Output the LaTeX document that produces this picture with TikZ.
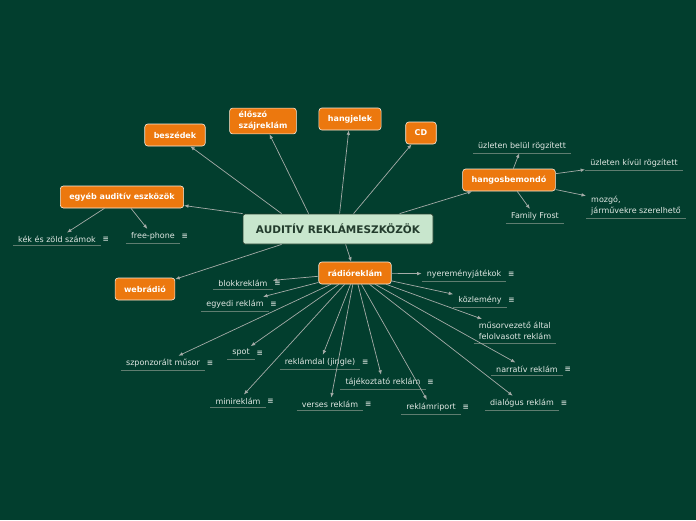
\documentclass[tikz,border=0pt]{standalone}
\usepackage{fontspec}
\setmainfont{DejaVu Sans}
\usetikzlibrary{arrows.meta,positioning}
\definecolor{bgdark}{RGB}{2,62,46}
\definecolor{orng}{RGB}{236,120,14}
\definecolor{ctrfill}{RGB}{200,230,205}
\definecolor{ctrtext}{RGB}{35,60,45}
\definecolor{conncol}{RGB}{165,172,168}
\definecolor{leaftxt}{RGB}{225,232,228}
\definecolor{ulcol}{RGB}{95,125,112}

\begin{document}
\begin{tikzpicture}[x=1pt,y=-1pt,>={Latex[length=4.5pt,width=3.6pt]},
  ctr/.style={draw=ctrtext,line width=.8pt,rounded corners=2pt,fill=ctrfill,text=ctrtext,font=\fontsize{10.5}{12}\selectfont\bfseries,minimum width=190pt,minimum height=30pt},
  topic/.style={draw=white!85!orng,line width=.6pt,rounded corners=3pt,fill=orng,text=white,font=\fontsize{8}{11}\selectfont\bfseries,inner xsep=9pt,minimum height=22pt,align=left},
  uline/.style={draw=ulcol,line width=.8pt,-},
  leaf/.style={text=leaftxt,font=\fontsize{8}{11}\selectfont,inner xsep=5pt,inner ysep=3pt,align=left,
    append after command={(\tikzlastnode.south west) edge[uline] (\tikzlastnode.south east)}},
  icon/.style={text=leaftxt!90!bgdark,font=\fontsize{7.5}{8}\selectfont\bfseries,inner sep=1.5pt},
  leafi/.style={leaf,label={[icon]right:≡}},
  conn/.style={draw=conncol,line width=.7pt,->}]
  \fill[bgdark] (0,0) rectangle (696,520);
  % main topic and its branches
  \node[ctr] (ctr) at (338,229) {AUDITÍV REKLÁMESZKÖZÖK};
  \node[topic] (bsz) at (175,135) {beszédek};
  \node[topic] (elo) at (263,121) {élőszó\\szájreklám};
  \node[topic] (hang) at (350,119) {hangjelek};
  \node[topic] (cd) at (421,133) {CD};
  \node[topic] (egy) at (122,197) {egyéb auditív eszközök};
  \node[topic] (hbm) at (509,180) {hangosbemondó};
  \node[topic] (web) at (145,289) {webrádió};
  \node[topic] (rr) at (355,273) {rádióreklám};
  \draw[conn] ([xshift=39pt]ctr.north west) -- (bsz);
  \draw[conn] ([xshift=66pt]ctr.north west) -- (elo);
  \draw[conn] ([xshift=97pt]ctr.north west) -- (hang);
  \draw[conn] ([xshift=111pt]ctr.north west) -- (cd);
  \draw[conn] (ctr.north west) -- (egy);
  \draw[conn] ([xshift=157pt]ctr.north west) -- (hbm);
  \draw[conn] ([xshift=39pt]ctr.south west) -- (web);
  \draw[conn] ([xshift=103pt]ctr.south west) -- (rr);
  % egyéb auditív eszközök
  \node[leafi] (kek) at (57,239) {kék és zöld számok};
  \node[leafi] (free) at (153,236) {free-phone};
  \draw[conn] (egy) -- (kek);
  \draw[conn] (egy) -- (free);
  % hangosbemondó
  \node[leaf] (bel) at (522,146) {üzleten belül rögzített};
  \node[leaf] (kiv) at (634,163) {üzleten kívül rögzített};
  \node[leaf] (moz) at (636,206) {mozgó,\\járművekre szerelhető};
  \node[leaf] (ff) at (535,216) {Family Frost};
  \foreach \t in {bel,kiv,moz,ff} \draw[conn] (hbm) -- (\t);
  % rádióreklám
  \node[leafi] (blk) at (243,283) {blokkreklám};
  \node[leafi] (egyd) at (235,304) {egyedi reklám};
  \node[leafi] (szp) at (163,363) {szponzorált műsor};
  \node[leafi] (spot) at (241,353) {spot};
  \node[leafi] (jng) at (320,362) {reklámdal (jingle)};
  \node[leafi] (mini) at (238,401) {minireklám};
  \node[leafi] (vers) at (330,404) {verses reklám};
  \node[leafi] (taj) at (383,382) {tájékoztató reklám};
  \node[leafi] (rip) at (431,407) {reklámriport};
  \node[leafi] (dia) at (522,403) {dialógus reklám};
  \node[leafi] (nar) at (527,369) {narratív reklám};
  \node[leaf] (msv) at (515,331) {műsorvezető által\\felolvasott reklám};
  \node[leafi] (kozl) at (480,300) {közlemény};
  \node[leafi] (nyer) at (464,274) {nyereményjátékok};
  \foreach \t in {blk,egyd,szp,spot,jng,mini,vers,taj,rip,dia,nar,msv,kozl,nyer}
    \draw[conn] (rr) -- (\t);
\end{tikzpicture}
\end{document}
